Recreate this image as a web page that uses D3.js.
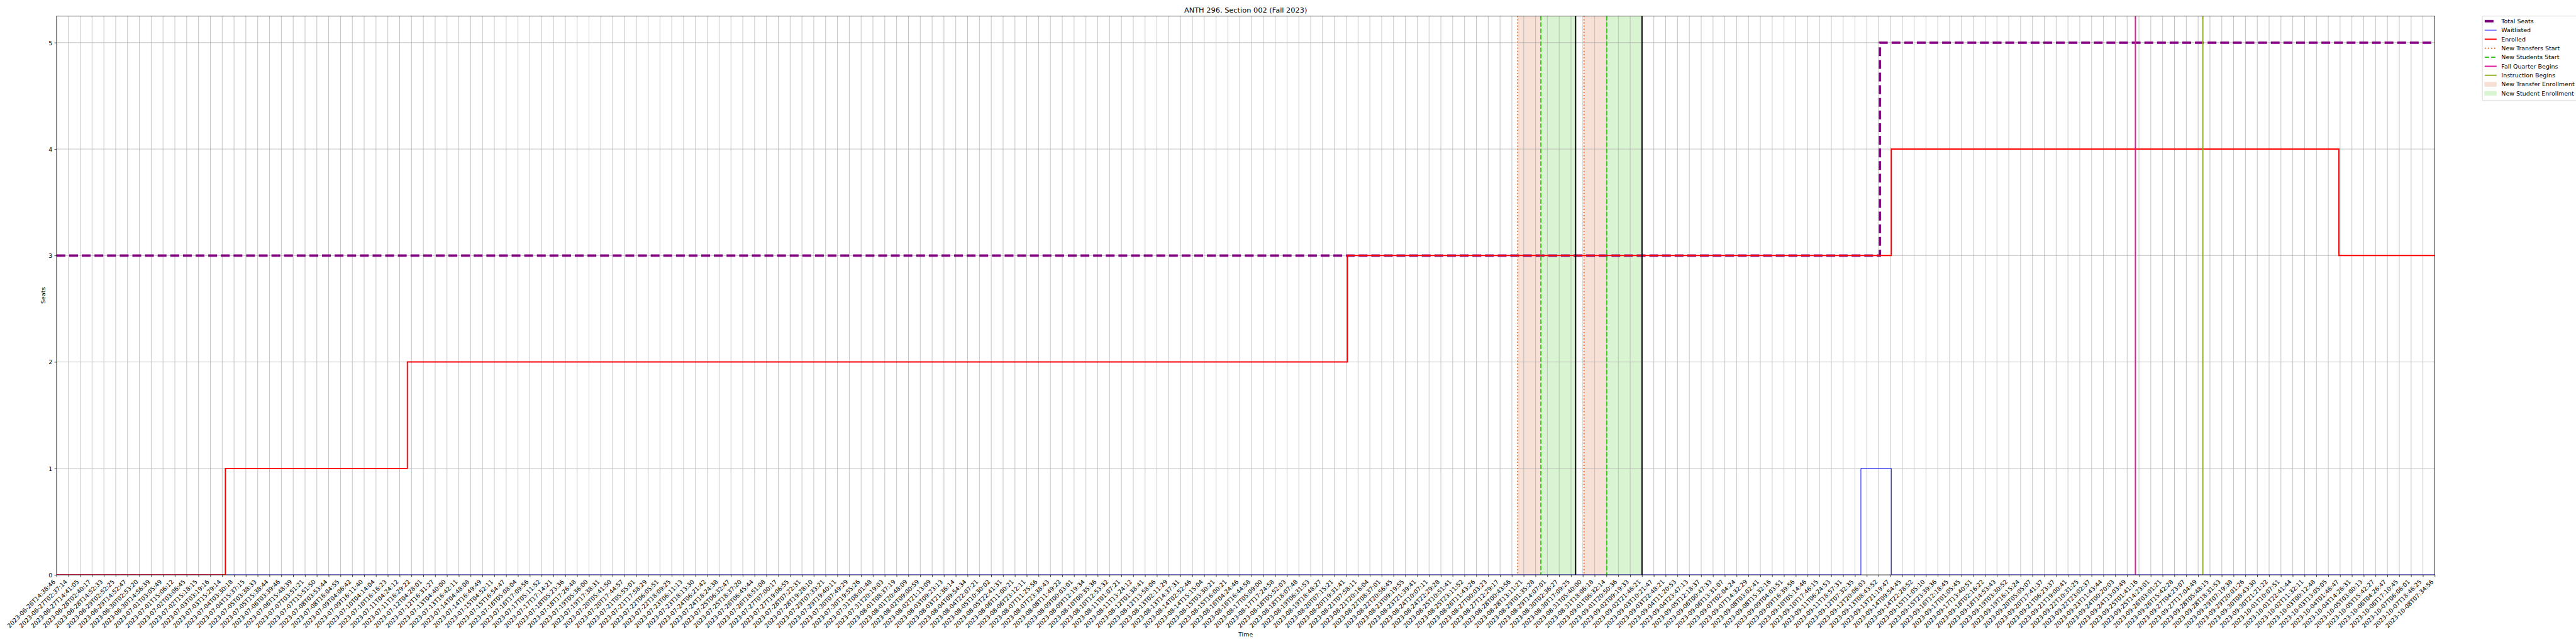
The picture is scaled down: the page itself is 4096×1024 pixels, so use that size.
<!DOCTYPE html>
<html><head><meta charset="utf-8">
<script src="https://cdn.jsdelivr.net/npm/d3@7"></script>
<style>body{margin:0;background:#fff;overflow:hidden}svg{display:block}</style>
</head><body>
<script>
// ---------- DATA ----------
const chartTitle = "ANTH 296, Section 002 (Fall 2023)";
const tickLabels = [
"2023-06-26T14:38:46","2023-06-27T02:37:14","2023-06-27T14:41:05","2023-06-28T02:40:17","2023-06-28T14:52:33",
"2023-06-29T02:52:25","2023-06-29T14:52:47","2023-06-30T02:53:20","2023-06-30T14:56:39","2023-07-01T03:05:49",
"2023-07-01T15:06:12","2023-07-02T03:06:45","2023-07-02T15:18:15","2023-07-03T03:19:16","2023-07-03T15:29:14",
"2023-07-04T03:30:18","2023-07-04T15:37:15","2023-07-05T03:38:33","2023-07-05T15:38:44","2023-07-06T03:39:46",
"2023-07-06T15:48:39","2023-07-07T03:51:21","2023-07-07T15:51:50","2023-07-08T03:53:44","2023-07-08T16:04:55",
"2023-07-09T04:06:42","2023-07-09T16:11:40","2023-07-10T04:14:04","2023-07-10T16:16:23","2023-07-11T04:24:12",
"2023-07-11T16:29:22","2023-07-12T04:28:01","2023-07-12T16:31:27","2023-07-13T04:40:00","2023-07-13T16:42:11",
"2023-07-14T04:48:08","2023-07-14T16:49:49","2023-07-15T04:52:11","2023-07-15T16:54:47","2023-07-16T05:08:04",
"2023-07-16T17:09:56","2023-07-17T05:11:52","2023-07-17T17:14:21","2023-07-18T05:23:36","2023-07-18T17:26:48",
"2023-07-19T05:36:00","2023-07-19T17:38:31","2023-07-20T05:41:50","2023-07-20T17:44:57","2023-07-21T05:55:01",
"2023-07-21T17:58:29","2023-07-22T06:05:51","2023-07-22T18:09:25","2023-07-23T06:11:13","2023-07-23T18:13:30",
"2023-07-24T06:21:42","2023-07-24T18:24:38","2023-07-25T06:32:47","2023-07-25T18:37:20","2023-07-26T06:45:44",
"2023-07-26T18:51:08","2023-07-27T07:00:17","2023-07-27T19:06:55","2023-07-28T07:22:31","2023-07-28T19:28:10",
"2023-07-29T07:33:21","2023-07-29T19:40:11","2023-07-30T07:49:29","2023-07-30T19:55:26","2023-07-31T08:01:48",
"2023-07-31T20:19:03","2023-08-01T08:37:19","2023-08-01T20:48:09","2023-08-02T09:00:59","2023-08-02T21:13:09",
"2023-08-03T09:23:13","2023-08-03T21:36:14","2023-08-04T09:54:34","2023-08-04T22:07:21","2023-08-05T10:30:02",
"2023-08-05T22:41:31","2023-08-06T11:00:21","2023-08-06T23:12:11","2023-08-07T11:25:56","2023-08-07T23:38:43",
"2023-08-08T11:49:22","2023-08-09T00:03:01","2023-08-09T12:19:34","2023-08-10T00:35:36","2023-08-10T12:53:32",
"2023-08-11T01:07:21","2023-08-11T13:24:12","2023-08-12T01:38:41","2023-08-12T13:58:06","2023-08-13T02:11:29",
"2023-08-13T14:37:31","2023-08-14T02:52:46","2023-08-14T15:15:04","2023-08-15T03:30:21","2023-08-15T16:00:21",
"2023-08-16T04:24:46","2023-08-16T16:44:58","2023-08-17T05:09:00","2023-08-17T17:24:58","2023-08-18T05:52:03",
"2023-08-18T18:07:48","2023-08-19T06:31:53","2023-08-19T18:48:27","2023-08-20T07:15:21","2023-08-20T19:31:41",
"2023-08-21T07:58:11","2023-08-21T20:16:04","2023-08-22T08:37:01","2023-08-22T20:56:45","2023-08-23T09:19:55",
"2023-08-23T21:39:41","2023-08-24T10:07:11","2023-08-24T22:29:28","2023-08-25T10:51:41","2023-08-25T23:11:52",
"2023-08-26T11:43:26","2023-08-27T00:03:23","2023-08-27T12:29:17","2023-08-28T00:43:56","2023-08-28T13:11:21",
"2023-08-29T01:35:28","2023-08-29T14:07:01","2023-08-30T02:36:27","2023-08-30T17:09:25","2023-08-31T05:40:00",
"2023-08-31T18:06:18","2023-09-01T06:32:14","2023-09-01T20:50:36","2023-09-02T09:19:33","2023-09-02T21:46:21",
"2023-09-03T10:21:47","2023-09-03T22:48:21","2023-09-04T11:20:53","2023-09-04T23:47:13","2023-09-05T12:18:37",
"2023-09-06T00:47:33","2023-09-06T13:31:07","2023-09-07T02:04:24","2023-09-07T14:32:29","2023-09-08T03:02:41",
"2023-09-08T15:32:16","2023-09-09T04:03:51","2023-09-09T16:39:56","2023-09-10T05:14:46","2023-09-10T17:46:15",
"2023-09-11T06:24:53","2023-09-11T18:57:31","2023-09-12T07:32:35","2023-09-12T20:06:03","2023-09-13T08:43:52",
"2023-09-13T21:19:47","2023-09-14T09:54:45","2023-09-14T22:28:52","2023-09-15T11:05:10","2023-09-15T23:39:36",
"2023-09-16T12:18:45","2023-09-17T01:05:45","2023-09-17T13:40:51","2023-09-18T02:16:22","2023-09-18T14:53:43",
"2023-09-19T03:30:52","2023-09-19T16:15:24","2023-09-20T05:05:07","2023-09-20T17:41:37","2023-09-21T06:23:37",
"2023-09-21T19:00:41","2023-09-22T10:31:25","2023-09-22T23:02:37","2023-09-23T11:43:44","2023-09-24T00:20:03",
"2023-09-24T13:03:49","2023-09-25T01:41:16","2023-09-25T14:23:01","2023-09-26T03:01:21","2023-09-26T15:42:28",
"2023-09-27T04:23:07","2023-09-27T17:04:49","2023-09-28T05:48:15","2023-09-28T18:31:53","2023-09-29T07:19:38",
"2023-09-29T20:01:26","2023-09-30T08:43:30","2023-09-30T21:21:22","2023-10-01T10:07:51","2023-10-01T22:41:44",
"2023-10-02T11:32:11","2023-10-03T00:12:48","2023-10-03T13:05:05","2023-10-04T01:46:47","2023-10-04T14:26:31",
"2023-10-05T03:00:13","2023-10-05T15:42:27","2023-10-06T04:26:47","2023-10-06T17:10:45","2023-10-07T06:06:01",
"2023-10-07T18:46:25","2023-10-08T07:34:56"
];
// step series: [position on the time axis (tick index, fractional between samples), value]
const totalSeats = [[0,3],[154.1,5],[201,5]];
const waitlisted = [[0,0],[152.5,1],[155.07,0],[201,0]];
const enrolled   = [[0,0],[14.27,1],[29.65,2],[109.1,3],[155.07,4],[192.9,3],[201,3]];
// events (positions on the same axis)
const newTransfersStart = [123.49, 129.1];
const newStudentsStart  = [125.45, 131.02];
const enrollmentEnds    = [128.39, 134.0];
const fallQuarterBegins = [175.7];
const instructionBegins = [181.4];
const yTicks = [0,1,2,3,4,5];
const yMax = 5.25;

// ---------- LAYOUT (reference pixel units, scaled by viewBox) ----------
const W = 6000, H = 1500;
const PT = 100/72;
const L = 131.7, R = 5671, T = 37.3, B = 1339;
const FS = 10*PT, TFS = 12*PT;
const FONT = "DejaVu Sans, sans-serif";
const C = {
  total:"#800080", wait:"#0000ff", enr:"#ff0000",
  trans:"#e8702e", stud:"#34c81a", fall:"#e0169c", instr:"#8fae1b",
  transFill:"#f7e0d6", studFill:"#d9f4d1", grid:"#b0b0b0"
};

const svg = d3.select("body").append("svg")
  .attr("width", 4096).attr("height", 1024)
  .attr("viewBox", `0 0 ${W} ${H}`)
  .style("font-family", FONT);
svg.append("rect").attr("width",W).attr("height",H).attr("fill","#fff");

const x = d3.scaleLinear().domain([0, tickLabels.length-1]).range([L, R]);
const y = d3.scaleLinear().domain([0, yMax]).range([B, T]);

const clip = svg.append("defs").append("clipPath").attr("id","plotclip");
clip.append("rect").attr("x",L).attr("y",T).attr("width",R-L).attr("height",B-T);

const plot = svg.append("g").attr("clip-path","url(#plotclip)");

// spans (below grid)
const transferSpans = newTransfersStart.map((s,i)=>[s, newStudentsStart[i]]);
const studentSpans = newStudentsStart.map((s,i)=>[s, enrollmentEnds[i]]);
plot.selectAll(".tspan").data(transferSpans).join("rect")
  .attr("x", d=>x(d[0])).attr("width", d=>x(d[1])-x(d[0]))
  .attr("y", T).attr("height", B-T).attr("fill", C.transFill);
plot.selectAll(".sspan").data(studentSpans).join("rect")
  .attr("x", d=>x(d[0])).attr("width", d=>x(d[1])-x(d[0]))
  .attr("y", T).attr("height", B-T).attr("fill", C.studFill);

// grid
const tickIdx = d3.range(tickLabels.length);
plot.append("g").selectAll("line").data(tickIdx).join("line")
  .attr("x1", d=>x(d)).attr("x2", d=>x(d)).attr("y1",T).attr("y2",B)
  .attr("stroke", C.grid).attr("stroke-width", 0.8*PT);
plot.append("g").selectAll("line").data(yTicks).join("line")
  .attr("x1", L).attr("x2", R).attr("y1", d=>y(d)).attr("y2", d=>y(d))
  .attr("stroke", C.grid).attr("stroke-width", 0.8*PT);

// step lines
const step = d3.line().x(d=>x(d[0])).y(d=>y(d[1])).curve(d3.curveStepAfter);
plot.append("path").attr("d", step(totalSeats)).attr("fill","none")
  .attr("stroke", C.total).attr("stroke-width", 4*PT)
  .attr("stroke-dasharray", `${3.7*4*PT} ${1.6*4*PT}`);
plot.append("path").attr("d", step(waitlisted)).attr("fill","none")
  .attr("stroke", C.wait).attr("stroke-width", 1*PT);
plot.append("path").attr("d", step(enrolled)).attr("fill","none")
  .attr("stroke", C.enr).attr("stroke-width", 2*PT);

// vertical event lines
function vlines(data, color, dash){
  plot.append("g").selectAll("line").data(data).join("line")
    .attr("x1", d=>x(d)).attr("x2", d=>x(d)).attr("y1", T).attr("y2", B)
    .attr("stroke", color).attr("stroke-width", 2*PT)
    .attr("stroke-dasharray", dash || null);
}
vlines(newTransfersStart, C.trans, `${1*2*PT} ${1.65*2*PT}`);
vlines(newStudentsStart, C.stud, `${3.7*2*PT} ${1.6*2*PT}`);
vlines(enrollmentEnds, "#000000");
vlines(fallQuarterBegins, C.fall);
vlines(instructionBegins, C.instr);

// frame
svg.append("rect").attr("x",L).attr("y",T).attr("width",R-L).attr("height",B-T)
  .attr("fill","none").attr("stroke","#000").attr("stroke-width",0.8*PT);

// x axis
const xAxis = svg.append("g").attr("transform",`translate(0,${B})`)
  .call(d3.axisBottom(x).tickValues(tickIdx).tickFormat(i=>tickLabels[i])
        .tickSize(3.5*PT).tickSizeOuter(0));
xAxis.select(".domain").remove();
xAxis.selectAll(".tick line").attr("stroke","#000").attr("stroke-width",0.8*PT);
const a = 0.76*FS, dsc = 0.24*FS, y0 = 3.5*PT + 3.5*PT;
xAxis.selectAll(".tick text")
  .attr("font-size", FS).attr("font-family", FONT).attr("fill","#000")
  .attr("y", null).attr("dy", null).attr("text-anchor","end")
  .attr("transform", `translate(${-0.707*dsc},${y0 + 0.707*a}) rotate(-45)`);

// y axis
const yAxis = svg.append("g").attr("transform",`translate(${L},0)`)
  .call(d3.axisLeft(y).tickValues(yTicks).tickFormat(d3.format("d"))
        .tickSize(3.5*PT).tickPadding(3.5*PT).tickSizeOuter(0));
yAxis.select(".domain").remove();
yAxis.selectAll(".tick line").attr("stroke","#000").attr("stroke-width",0.8*PT);
yAxis.selectAll(".tick text").attr("font-size",FS).attr("font-family",FONT).attr("fill","#000")
  .attr("dy","0.36em");

// titles
svg.append("text").attr("x",(L+R)/2).attr("y",T-6*PT).attr("text-anchor","middle")
  .attr("font-size",TFS).text(chartTitle);
svg.append("text").attr("x",(L+R)/2).attr("y",1483).attr("text-anchor","middle")
  .attr("font-size",FS).text("Time");
svg.append("text").attr("transform",`translate(106,${(T+B)/2}) rotate(-90)`)
  .attr("text-anchor","middle").attr("font-size",FS).text("Seats");

// legend
const legendItems = [
  {label:"Total Seats", type:"line", color:C.total, w:4, dash:`${3.7*4*PT} ${1.6*4*PT}`},
  {label:"Waitlisted", type:"line", color:C.wait, w:1},
  {label:"Enrolled", type:"line", color:C.enr, w:2},
  {label:"New Transfers Start", type:"line", color:C.trans, w:2, dash:`${1*2*PT} ${1.65*2*PT}`},
  {label:"New Students Start", type:"line", color:C.stud, w:2, dash:`${3.7*2*PT} ${1.6*2*PT}`},
  {label:"Fall Quarter Begins", type:"line", color:C.fall, w:2},
  {label:"Instruction Begins", type:"line", color:C.instr, w:2},
  {label:"New Transfer Enrollment", type:"patch", color:C.transFill},
  {label:"New Student Enrollment", type:"patch", color:C.studFill}
];
const lgX = R + 0.02*(R-L), lgY = T, pad = 0.4*FS, rowH = 21, hl = 2*FS;
const lgH = pad*2 + legendItems.length*rowH - 0.5*FS + 4;
const lg = svg.append("g");
lg.append("rect").attr("x",lgX).attr("y",lgY).attr("width",224).attr("height",lgH)
  .attr("rx",0.2*FS).attr("fill","#fff").attr("fill-opacity",0.8)
  .attr("stroke","#cccccc").attr("stroke-width",1*PT);
legendItems.forEach((it,i)=>{
  const cy = lgY + pad + 6.5 + i*rowH;
  const hx = lgX + pad;
  if(it.type==="line"){
    lg.append("line").attr("x1",hx).attr("x2",hx+hl).attr("y1",cy).attr("y2",cy)
      .attr("stroke",it.color).attr("stroke-width",it.w*PT)
      .attr("stroke-dasharray",it.dash||null);
  } else {
    lg.append("rect").attr("x",hx).attr("y",cy-0.35*FS).attr("width",hl).attr("height",0.7*FS)
      .attr("fill",it.color).attr("stroke",it.color).attr("stroke-width",1);
  }
  lg.append("text").attr("x",hx+hl+0.8*FS).attr("y",cy).attr("dy","0.36em")
    .attr("font-size",FS).text(it.label);
});
</script>
</body></html>
